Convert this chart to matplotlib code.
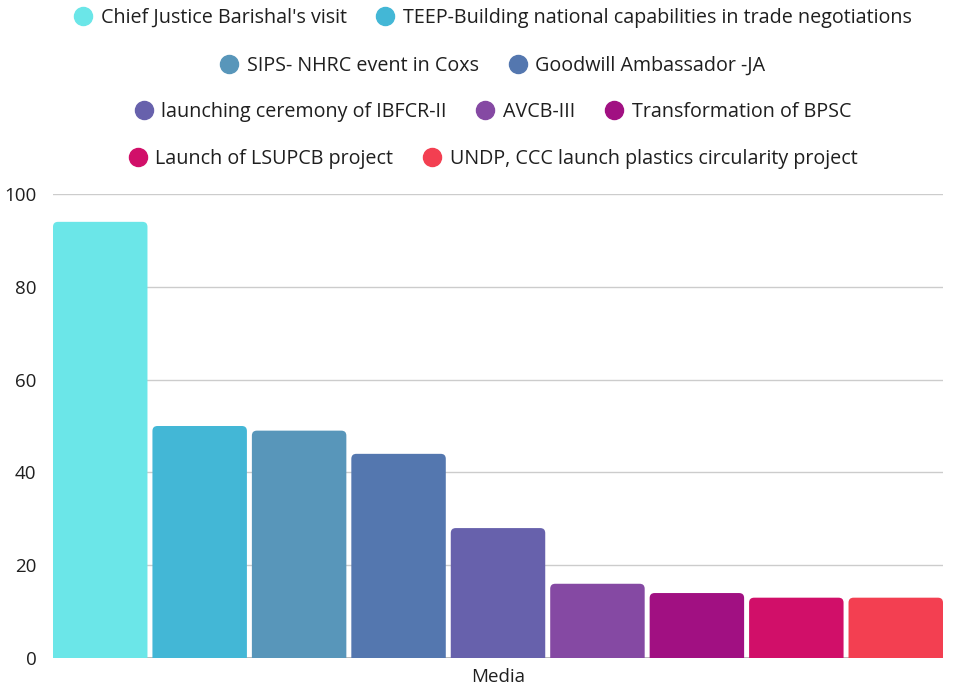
import matplotlib
matplotlib.use('Agg')
import matplotlib.pyplot as plt
from matplotlib.lines import Line2D
from matplotlib.patches import FancyBboxPatch

# chart data
category = 'Media'
labels = ["Chief Justice Barishal's visit",
          'TEEP-Building national capabilities in trade negotiations',
          'SIPS- NHRC event in Coxs',
          'Goodwill Ambassador -JA',
          'launching ceremony of IBFCR-II',
          'AVCB-III',
          'Transformation of BPSC',
          'Launch of LSUPCB project',
          'UNDP, CCC launch plastics circularity project']
values = [94, 50, 49, 44, 28, 16, 14, 13, 13]
colors = ['#6BE6E8', '#43B7D6', '#5896BA', '#5477AF', '#6761AC',
          '#8549A3', '#A11082', '#D10F69', '#F33F51']
y_ticks = [0, 20, 40, 60, 80, 100]

# legend rows as they wrap in the original
legend_rows = [[0, 1], [2, 3], [4, 5, 6], [7, 8]]

plt.rcParams['font.family'] = ['Open Sans', 'DejaVu Sans']
text_color = '#1f1f1f'

fig = plt.figure(figsize=(9.55, 6.86), dpi=100)
ax = fig.add_axes([53 / 955, 1 - 658 / 686, 890 / 955, 464 / 686])

ax.set_xlim(-0.475, len(values) - 1 + 0.475)
ax.set_ylim(0, 100)

x = list(range(len(values)))
bars = ax.bar(x, values, width=0.95, color=colors, zorder=2)

# swap the plain rectangles for ones with rounded top corners
px_x = 890 / (ax.get_xlim()[1] - ax.get_xlim()[0])
px_y = 464 / 100
for b in bars:
    x0, w, h = b.get_x(), b.get_width(), b.get_height()
    r = 5 / px_x
    p = FancyBboxPatch((x0, -2), w, h + 2,
                       boxstyle=f'round,pad=0,rounding_size={r}',
                       mutation_aspect=px_x / px_y,
                       facecolor=b.get_facecolor(), edgecolor='none', zorder=2)
    ax.add_patch(p)
    b.remove()

ax.set_yticks(y_ticks)
ax.set_xticks([(len(values) - 1) / 2])
ax.set_xticklabels([category])
ax.tick_params(axis='both', length=0, labelsize=13.5, colors=text_color)
ax.tick_params(axis='y', pad=12)
ax.tick_params(axis='x', pad=7)
ax.grid(axis='y', color='#cccccc', linewidth=1, zorder=0)
for s in ax.spines.values():
    s.set_visible(False)
ax.axhline(0, color='#aaaaaa', linewidth=1.2, zorder=1)

row_y = [18, 66, 112, 159]
for row, ypix in zip(legend_rows, row_y):
    handles = [Line2D([], [], linestyle='none', marker='o', markersize=13,
                      markerfacecolor=colors[i], markeredgecolor=colors[i])
               for i in row]
    fig.legend(handles, [labels[i] for i in row], loc='center',
               bbox_to_anchor=(493 / 955, 1 - ypix / 686), ncol=len(row),
               frameon=False, fontsize=14.2, handlelength=0.9,
               handletextpad=0.45, columnspacing=1.5, labelcolor=text_color,
               borderaxespad=0, borderpad=0)

fig.savefig('out.png', dpi=100)
